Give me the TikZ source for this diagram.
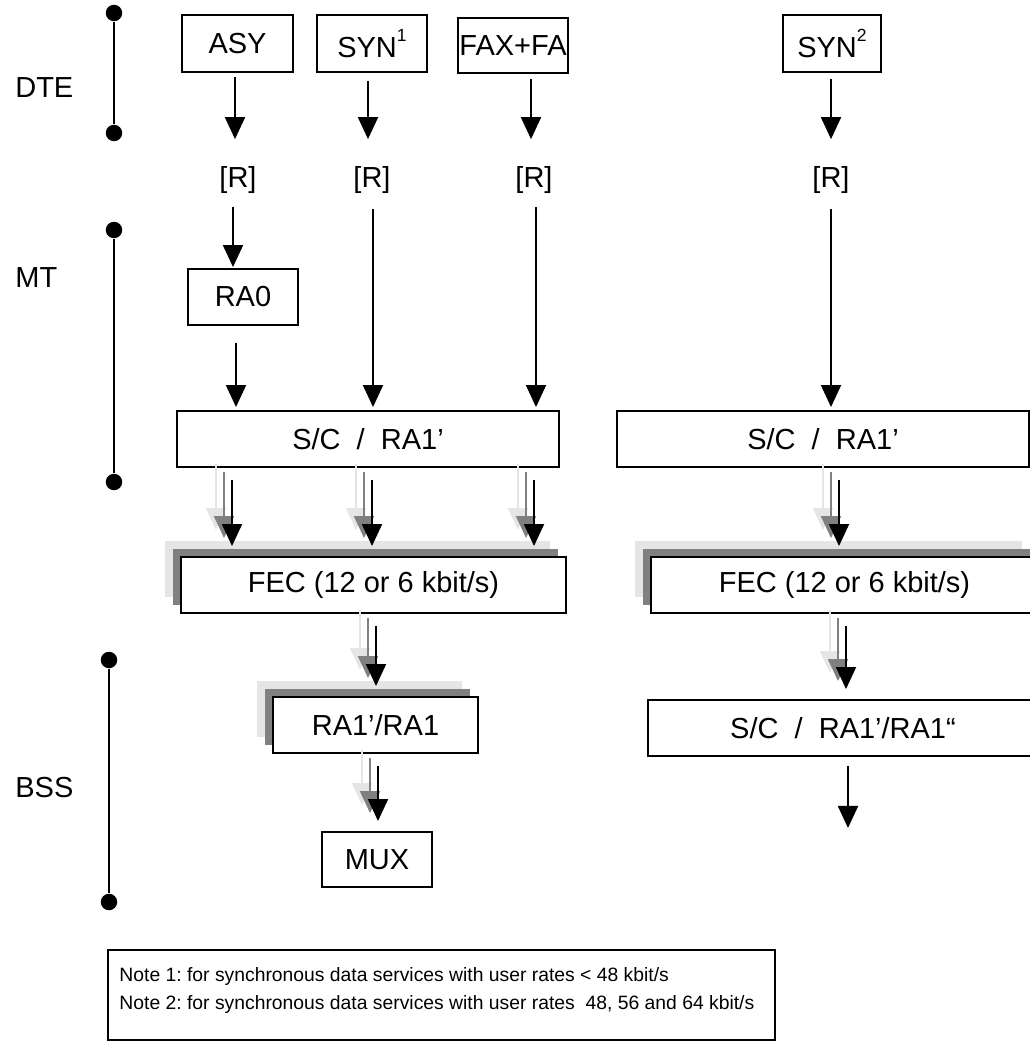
\documentclass[tikz,border=0pt]{standalone}
\usepackage{fontspec}
\setmainfont{Liberation Sans}
\usetikzlibrary{arrows.meta, calc, shadows}
\definecolor{shlight}{gray}{0.9}
\definecolor{shdark}{gray}{0.5}
\newcommand{\boxfont}{\fontsize{16.5}{19.5}\selectfont}
\newcommand{\notefont}{\fontsize{11}{15.9}\selectfont}
\newcommand{\supnum}[1]{\raisebox{9pt}{\fontsize{10}{10}\selectfont #1}}
% arrow with two grey copies behind it
\newcommand{\shadearrow}[3][0]{%
  \foreach \off/\col in {16/shlight, 8/shdark, 0/black}
    \draw[arr, draw=\col] ($(#2)+(#1-\off,12-\off)$) -- ($(#3)+(#1-\off,-10-\off)$);%
}
\frenchspacing

\begin{document}
\begin{tikzpicture}[x=0.02cm, y=-0.02cm,
    box/.style={draw, fill=white, line width=1.1pt, inner sep=0pt, font=\boxfont, minimum height=1.12cm},
    shadowbox/.style={box,
        general shadow={fill=shlight, shadow xshift=-0.32cm, shadow yshift=0.32cm},
        general shadow={fill=shdark, shadow xshift=-0.16cm, shadow yshift=0.16cm}},
    lbl/.style={inner sep=0pt, font=\boxfont},
    dot/.style={circle, fill=black, inner sep=0pt, minimum size=0.33cm},
    bar/.style={line width=1.1pt},
    arr/.style={-{Triangle[width=0.4cm,length=0.44cm]}, line width=1.1pt},
    notebox/.style={draw, line width=1.1pt, minimum width=13.34cm, minimum height=1.8cm}
]
    \useasboundingbox (0,0) rectangle (1030,1047);

    % Layer bars
    \node[dot] (dteT) at (114,13) {};
    \node[dot] (dteB) at (114,133) {};
    \node[dot] (mtT) at (114,230) {};
    \node[dot] (mtB) at (114,482) {};
    \node[dot] (bssT) at (109,660) {};
    \node[dot] (bssB) at (109,902) {};
    \draw[bar] (dteT) -- (dteB);
    \draw[bar] (mtT) -- (mtB);
    \draw[bar] (bssT) -- (bssB);
    \node[lbl, anchor=west] (dte) at (15,88) {DTE};
    \node[lbl, anchor=west] (mt) at (15,278) {MT};
    \node[lbl, anchor=west] (bss) at (15,788) {BSS};

    % DTE services
    \node[box, minimum width=2.22cm, minimum height=1.14cm] (asy) at (237.5,43.5) {ASY};
    \node[box, minimum width=2.2cm, minimum height=1.14cm] (syn1) at (372,43.5) {SYN\supnum{1}};
    \node[box, minimum width=2.2cm, minimum height=1.1cm] (fax) at (513,45.5) {FAX+FA};
    \node[box, minimum width=1.96cm, minimum height=1.14cm] (syn2) at (832,43.5) {SYN\supnum{2}};

    % Interfaces
    \node[lbl] (r1) at (238,180) {[R]};
    \node[lbl] (r2) at (372,180) {[R]};
    \node[lbl] (r3) at (534,180) {[R]};
    \node[lbl] (r4) at (831,180) {[R]};

    % MT
    \node[box, minimum width=2.2cm] (ra0) at (243,297) {RA0};
    \node[box, minimum width=7.64cm] (scL) at (368,439) {S/C\ \ /\ \ RA1’};
    \node[box, minimum width=8.24cm] (scR) at (823,439) {S/C\ \ /\ \ RA1’};

    % Channel coding
    \node[shadowbox, minimum width=7.7cm] (fecL) at (373.5,585) {FEC (12 or 6 kbit/s)};
    \node[shadowbox, minimum width=7.74cm] (fecR) at (844.5,585) {FEC (12 or 6 kbit/s)};

    % BSS
    \node[shadowbox, minimum width=4.1cm] (ra1) at (375.5,725) {RA1’/RA1};
    \node[box, minimum width=7.8cm] (ra1R) at (843,728) {S/C\ \ /\ \ RA1’/RA1“};
    \node[box, minimum width=2.2cm, minimum height=1.1cm] (mux) at (377,859.5) {MUX};
    \coordinate (out) at ($(ra1R.south -| r4)+(17,71)$);

    % Notes
    \node[notebox] (note) at (441.5,995) {};
    \node[anchor=north west, inner sep=0pt, align=left, font=\notefont] (notes) at ($(note.north west)+(12,18)$)
        {Note 1: for synchronous data services with user rates < 48 kbit/s\\
         Note 2: for synchronous data services with user rates\ \ 48, 56 and 64 kbit/s};

    % Connections
    \draw[arr] ($(asy.south -| r1)+(-3,4)$) -- ($(r1.north)+(-3,-27)$);
    \draw[arr] ($(syn1.south -| r2)+(-4,8)$) -- ($(r2.north)+(-4,-27)$);
    \draw[arr] ($(fax.south -| r3)+(-3,5)$) -- ($(r3.north)+(-3,-27)$);
    \draw[arr] ($(syn2.south -| r4)+(0,6)$) -- ($(r4.north)+(0,-27)$);
    \draw[arr] ($(r1.south)+(-5,13)$) -- ($(ra0.north -| r1)+(-5,-1)$);
    \draw[arr] ($(ra0.south -| r1)+(-2,17)$) -- ($(scL.north -| r1)+(-2,-3)$);
    \draw[arr] ($(r2.south)+(1,15)$) -- ($(scL.north -| r2)+(1,-3)$);
    \draw[arr] ($(r3.south)+(2,13)$) -- ($(scL.north -| r3)+(2,-3)$);
    \draw[arr] ($(r4.south)+(0,15)$) -- ($(scR.north -| r4)+(0,-3)$);

    % Shadowed connections
    \shadearrow[-6]{scL.south -| r1}{fecL.north -| r1}
    \shadearrow{scL.south -| r2}{fecL.north -| r2}
    \shadearrow{scL.south -| r3}{fecL.north -| r3}
    \shadearrow[8]{scR.south -| r4}{fecR.north -| r4}
    \shadearrow[4]{fecL.south -| r2}{ra1.north -| r2}
    \shadearrow[15]{fecR.south -| r4}{ra1R.north -| r4}
    \shadearrow[6]{ra1.south -| r2}{mux.north -| r2}
    \draw[arr] ($(ra1R.south -| r4)+(17,9)$) -- (out);

\end{tikzpicture}
\end{document}
